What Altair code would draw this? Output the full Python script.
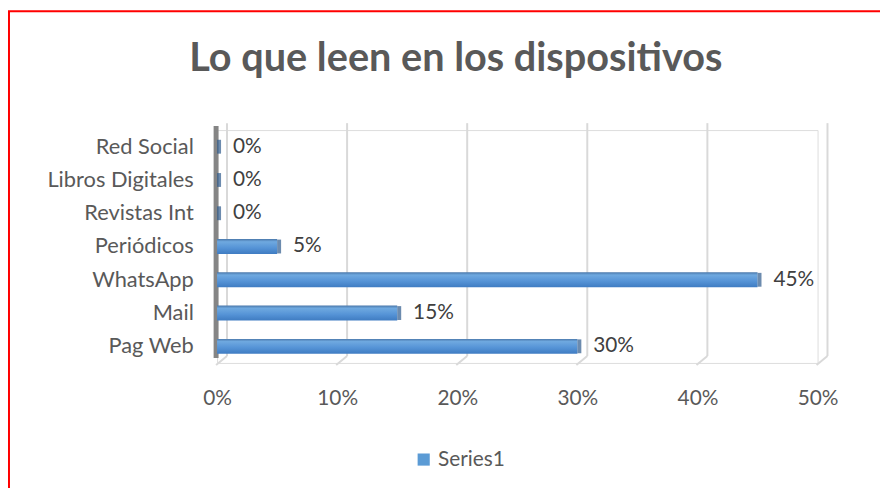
import altair as alt
import pandas as pd

title_text = "Lo que leen en los dispositivos"
categories = ["Red Social", "Libros Digitales", "Revistas Int", "Periódicos", "WhatsApp", "Mail", "Pag Web"]
values = [0.00, 0.00, 0.00, 0.05, 0.45, 0.15, 0.30]
series_name = "Series1"
grid_ticks = [0.0, 0.1, 0.2, 0.3, 0.4, 0.5]

FONT = "Lato"
FS = 21
W, H = 606, 235
PL, PT = 211, 121

df = pd.DataFrame({"cat": categories, "val": values, "series": [series_name] * len(categories)})
gdf = pd.DataFrame({"t": grid_ticks})

xscale = alt.Scale(domain=[0, 0.5], nice=False)
yscale = alt.Scale(domain=categories, paddingInner=0.55, paddingOuter=0.275)

x_axis = alt.Axis(format=".0%", values=grid_ticks, grid=False, domain=False, ticks=False, labelFlush=False,
                  labelPadding=25, labelFontSize=FS, labelColor="#595959", labelFont=FONT, title=None)
y_axis = alt.Axis(domain=False, ticks=False, grid=False, labelPadding=24, labelFontSize=22,
                  labelColor="#595959", labelFont=FONT, title=None)

base_g = alt.Chart(gdf)
grid_v = base_g.mark_rule(color="#d9d9d9", strokeWidth=2, xOffset=10).encode(
    x=alt.X("t:Q", scale=xscale, axis=x_axis),
    y=alt.value(-7), y2=alt.value(H - 7))
grid_s = base_g.mark_rule(color="#d9d9d9", strokeWidth=2, xOffset=10, x2Offset=-1).encode(
    x=alt.X("t:Q", scale=xscale), x2="t:Q",
    y=alt.value(H - 7), y2=alt.value(H + 2))

wall = alt.Chart(pd.DataFrame({"t": [0.0]})).mark_rule(color="#858585", strokeWidth=5, xOffset=-1).encode(
    x=alt.X("t:Q", scale=xscale), y=alt.value(-4), y2=alt.value(H - 5))

grad = alt.Gradient(gradient="linear", x1=0, x2=0, y1=0, y2=1,
                    stops=[alt.GradientStop(color="#4a78ab", offset=0),
                           alt.GradientStop(color="#6fa9e0", offset=0.18),
                           alt.GradientStop(color="#5593d6", offset=0.6),
                           alt.GradientStop(color="#3f7cc2", offset=1)])

base = alt.Chart(df)
bars = base.mark_bar(fill=grad, size=15).encode(
    x=alt.X("val:Q", scale=xscale),
    y=alt.Y("cat:N", scale=yscale, sort=categories, axis=y_axis),
    color=alt.Color("series:N", scale=alt.Scale(range=["#5b9bd5"]),
                    legend=alt.Legend(orient="none", legendX=198, legendY=322, direction="horizontal",
                                      title=None, symbolType="square", symbolSize=150,
                                      symbolStrokeWidth=0, labelFontSize=FS, labelFont=FONT,
                                      labelColor="#595959", padding=0, labelOffset=4)))
caps = base.mark_tick(color="#2d5a8c", thickness=4, size=14, xOffset=2).encode(
    x=alt.X("val:Q", scale=xscale), y=alt.Y("cat:N", scale=yscale, sort=categories))
labels = base.mark_text(align="left", baseline="middle", dx=16, fontSize=FS, font=FONT, color="#404040").encode(
    x=alt.X("val:Q", scale=xscale), y=alt.Y("cat:N", scale=yscale, sort=categories),
    text=alt.Text("val:Q", format=".0%"))

title = alt.Chart(pd.DataFrame({"t": [title_text]})).mark_text(
    font=FONT, fontSize=40, fontWeight="bold", color="#595959", align="center", baseline="alphabetic").encode(
    x=alt.value(241), y=alt.value(-60), text="t:N")

border = alt.Chart(pd.DataFrame({"a": [0]})).mark_rect(fill=None, stroke="#ff0000", strokeWidth=2).encode(
    x=alt.value(-PL + 1), y=alt.value(-PT + 1), x2=alt.value(W + 200), y2=alt.value(H + 300))

chart = alt.layer(border, grid_v, grid_s, wall, bars, caps, labels, title).properties(
    width=W, height=H,
    autosize=alt.AutoSizeParams(type="none"),
    padding={"left": PL, "top": PT, "right": 880 - PL - W, "bottom": 480 - PT - H},
).configure_view(stroke=None).configure(background="white")

chart.save("out.html", embed_options={"renderer": "svg", "actions": False})
